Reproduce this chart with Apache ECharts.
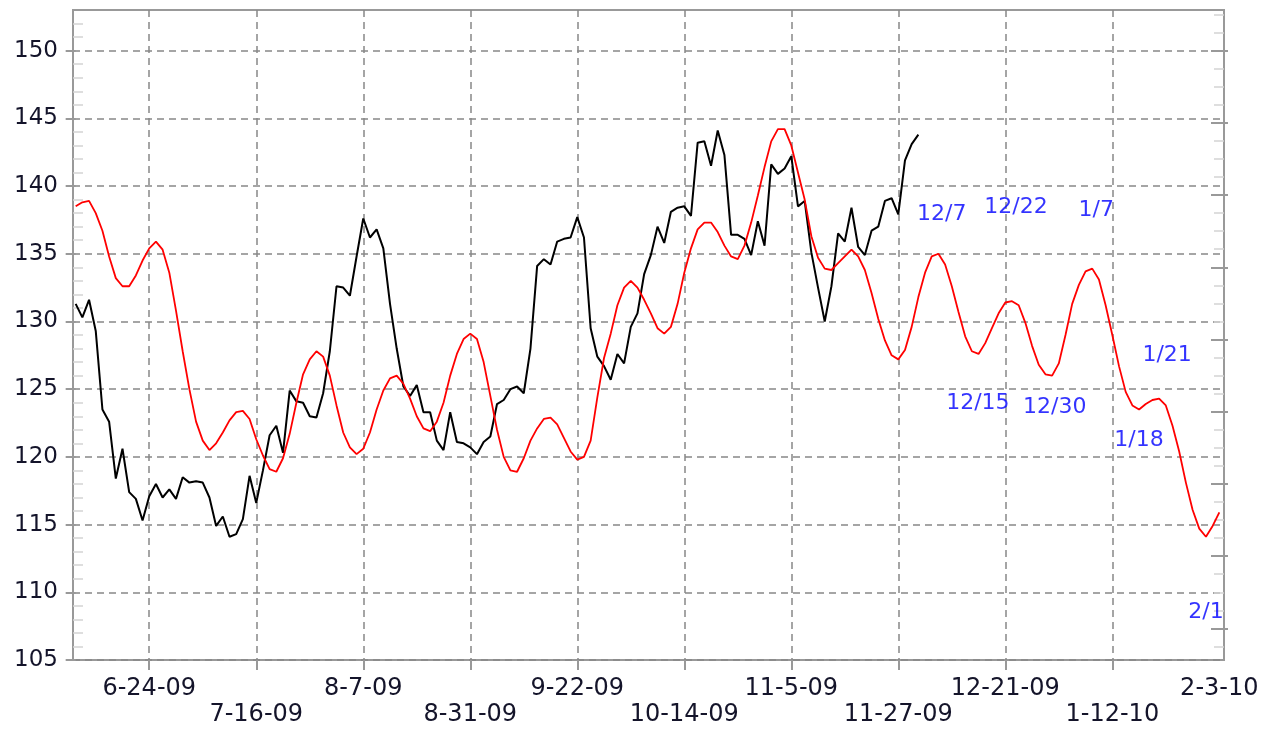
<!DOCTYPE html>
<html><head><meta charset="utf-8">
<script src="https://cdn.jsdelivr.net/npm/echarts@6.0.0/dist/echarts.min.js"></script>
<style>html,body{margin:0;padding:0;background:#fff}#c{width:1273px;height:732px}</style>
</head><body><div id="c"></div>
<script>
// x = trading-day index; index 11 = 6-24-09, tick every 16 trading days
const tickLabels = ['6-24-09','7-16-09','8-7-09','8-31-09','9-22-09','10-14-09','11-5-09','11-27-09','12-21-09','1-12-10','2-3-10'];
const tickIndex = [11,27,43,59,75,91,107,123,139,155,171];
const yTickValues = [105,110,115,120,125,130,135,140,145,150];

const priceValues = [131.3,130.3,131.6,129.3,123.5,122.6,118.4,120.6,117.4,116.9,
115.3,117.1,118.0,117.0,117.6,116.9,118.5,118.1,118.2,118.1,
117.0,114.9,115.6,114.1,114.3,115.4,118.6,116.6,119.0,121.6,
122.3,120.3,124.9,124.1,124.0,123.0,122.9,124.7,127.8,132.6,
132.5,131.9,134.8,137.6,136.2,136.8,135.4,131.3,128.0,125.2,
124.5,125.3,123.3,123.3,121.2,120.5,123.3,121.1,121.0,120.7,
120.2,121.1,121.5,123.9,124.2,125.0,125.2,124.7,128.0,134.1,
134.6,134.2,135.9,136.1,136.2,137.7,136.2,129.5,127.4,126.7,
125.7,127.6,126.9,129.6,130.6,133.5,134.9,137.0,135.8,138.1,
138.4,138.5,137.8,143.2,143.3,141.5,144.1,142.3,136.4,136.4,
136.1,134.9,137.4,135.6,141.6,140.9,141.3,142.2,138.5,138.9,
135.1,132.5,130.0,132.6,136.5,135.9,138.4,135.5,134.9,136.7,
137.0,138.9,139.1,137.9,141.9,143.1,143.8];

const cycleValues = [138.5,138.8,138.9,138.0,136.7,134.8,133.2,132.6,132.6,133.4,
134.5,135.4,135.9,135.3,133.6,130.8,127.8,125.0,122.6,121.2,
120.5,121.0,121.8,122.7,123.3,123.4,122.8,121.3,120.1,119.1,
118.9,119.9,121.7,124.0,126.1,127.2,127.8,127.4,126.0,123.8,
121.8,120.7,120.2,120.6,121.8,123.5,124.9,125.8,126.0,125.4,
124.3,123.0,122.1,121.9,122.6,124.0,126.0,127.6,128.7,129.1,
128.7,127.0,124.5,122.0,120.0,119.0,118.9,119.9,121.2,122.1,
122.8,122.9,122.4,121.4,120.4,119.8,120.0,121.2,124.4,127.3,
129.1,131.2,132.5,133.0,132.5,131.6,130.6,129.5,129.1,129.6,
131.3,133.6,135.4,136.8,137.3,137.3,136.6,135.6,134.8,134.6,
135.6,137.3,139.3,141.4,143.3,144.2,144.2,143.0,141.0,139.0,
136.3,134.7,133.9,133.8,134.3,134.8,135.3,134.8,133.8,132.1,
130.2,128.6,127.5,127.2,127.9,129.6,131.8,133.6,134.8,135.0,
134.2,132.6,130.7,128.9,127.8,127.6,128.4,129.5,130.6,131.4,
131.5,131.2,129.9,128.2,126.8,126.1,126.0,126.9,129.0,131.3,
132.7,133.7,133.9,133.1,131.2,129.0,126.7,124.8,123.8,123.5,
123.9,124.2,124.3,123.8,122.3,120.4,118.1,116.1,114.7,114.1,
114.9,115.9];

const noteLabels = ['12/7','12/22','1/7','1/21','12/15','12/30','1/18','2/1'];
const noteX = [129.5,140.6,152.6,163.2,134.9,146.4,159.0,169.0];
const noteY = [137.9,138.4,138.2,127.5,123.95,123.65,121.2,108.55];

// decorative minor tick positions
const leftMinor = [];
for (let v = 106; v <= 152; v++) if (v % 5 !== 0) leftMinor.push(v);
const rightMajor = [];
for (let k = 0; k <= 8; k++) rightMajor.push(150 - 16 * k / 3);
const rightMinor = [];
for (let k = -2; k <= 33; k++) if (k % 4 !== 0) rightMinor.push(150 - 4 * k / 3);

const chart = echarts.init(document.getElementById('c'), null, {renderer: 'canvas'});
const fontFam = 'DejaVu Sans, Verdana, sans-serif';
const yBase = {type: 'value', min: 105, max: 153, splitLine: {show: false}, axisLine: {show: false}, axisLabel: {show: false}};

chart.setOption({
  animation: false,
  backgroundColor: '#fff',
  grid: {left: 73, top: 10, right: 49, bottom: 72, show: true, borderColor: '#999', borderWidth: 2, outerBoundsMode: 'none', containLabel: false},
  xAxis: {
    type: 'value', min: -0.4, max: 171.7,
    axisLine: {show: false},
    axisTick: {show: true, customValues: tickIndex.slice(0, tickIndex.length - 1), length: 10, lineStyle: {color: '#999', width: 2}},
    axisLabel: {
      show: true, customValues: tickIndex, margin: 16, fontSize: 24, fontFamily: fontFam, color: '#14142a', lineHeight: 26,
      formatter: function (value) {
        const k = tickIndex.indexOf(Math.round(value));
        if (k < 0) return '';
        return k % 2 === 0 ? tickLabels[k] : '\n' + tickLabels[k];
      }
    },
    splitLine: {show: true, lineStyle: {color: '#888', width: 1.5, type: [7, 5]}}
  },
  yAxis: [
    {
      type: 'value', min: 105, max: 153, position: 'left',
      axisLine: {show: false},
      axisTick: {show: true, customValues: yTickValues, length: 10, lineStyle: {color: '#999', width: 2}},
      axisLabel: {show: true, customValues: yTickValues, margin: 15, fontSize: 23, fontFamily: fontFam, color: '#14142a'},
      splitLine: {show: true, lineStyle: {color: '#888', width: 1.5, type: [7, 5]}}
    },
    Object.assign({}, yBase, {position: 'left', axisTick: {show: true, inside: true, customValues: leftMinor, length: 10, lineStyle: {color: '#d4d4d4', width: 1.5}}}),
    Object.assign({}, yBase, {position: 'right', axisTick: {show: true, inside: true, customValues: rightMajor, length: 13, lineStyle: {color: '#999', width: 2}}}),
    Object.assign({}, yBase, {position: 'right', axisTick: {show: true, inside: false, customValues: rightMajor, length: 4, lineStyle: {color: '#999', width: 2}}}),
    Object.assign({}, yBase, {position: 'right', axisTick: {show: true, inside: true, customValues: rightMinor, length: 10, lineStyle: {color: '#d4d4d4', width: 1.5}}})
  ],
  series: [
    {
      type: 'line', name: 'price', yAxisIndex: 0, showSymbol: false, symbol: 'none',
      data: priceValues.map((v, i) => [i, v]),
      lineStyle: {color: '#000', width: 2}, z: 3
    },
    {
      type: 'line', name: 'cycle', yAxisIndex: 0, showSymbol: false, symbol: 'none', smooth: false,
      data: cycleValues.map((v, i) => [i, v]),
      lineStyle: {color: '#ff0000', width: 1.8}, z: 4
    },
    {
      type: 'scatter', name: 'notes', yAxisIndex: 0, symbolSize: 0,
      data: noteLabels.map((t, k) => ({name: t, value: [noteX[k], noteY[k]]})),
      label: {show: true, position: 'inside', formatter: '{b}', color: '#0000ff', fontSize: 22, fontFamily: fontFam},
      z: 5
    }
  ]
});
</script>
</body></html>
